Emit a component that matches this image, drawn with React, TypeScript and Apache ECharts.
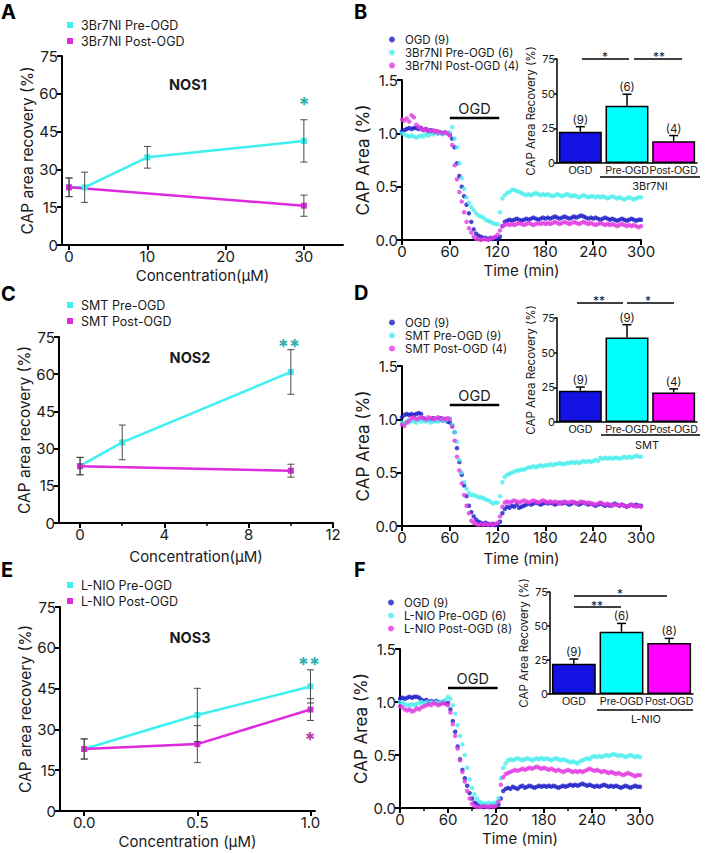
import React, { useEffect, useRef } from "react";
import * as echarts from "echarts";

const FONT = "Inter, 'Liberation Sans', Arial, Helvetica, sans-serif";
const FONT_NARROW = "'Liberation Sans', Arial, Helvetica, sans-serif";
const TXT = "#1a1a1a";
const CYAN = "#3ff0f0";
const MAG = "#dd2bdd";
const BLUE = "#1c1cc8";
const DOT_CYAN = "#4ceeee";
const DOT_MAG = "#e23ae2";
const BAR_COLORS = ["#1212e2", "#00ffff", "#ff00ff"];
const TEAL = "#2fb0b0";
const STAR_MAG = "#b03cb0";

// ---------- Panel A (NOS1, 3Br7NI) ----------
const concAPre = [0, 2, 10, 30];
const preA = [22.9, 22.9, 34.8, 41.3];
const preAErr = [3.7, 6.0, 4.3, 8.4];
const concAPost = [0, 30];
const postA = [22.9, 15.6];
const postAErr = [3.7, 4.2];

// ---------- Panel C (NOS2, SMT) ----------
const concCPre = [0, 2, 10];
const preC = [23.0, 32.5, 60.9];
const preCErr = [3.5, 7.0, 9.0];
const concCPost = [0, 10];
const postC = [22.9, 21.1];
const postCErr = [3.5, 2.6];

// ---------- Panel E (NOS3, L-NIO) ----------
const concEPre = [0, 0.5, 1];
const preE = [22.8, 35.3, 45.8];
const preEErr = [3.7, 9.8, 6.1];
const concEPost = [0, 0.5, 1];
const postE = [22.8, 24.6, 37.3];
const postEErr = [3.7, 6.8, 4.0];

// ---------- Inset bar charts ----------
const barCats = ["OGD", "Pre-OGD", "Post-OGD"];
const insetB = [22.6, 41.3, 15.6];
const insetBErr = [3.6, 8.3, 4.2];
const insetBN = ["(9)", "(6)", "(4)"];
const insetD = [22.6, 61.0, 21.3];
const insetDErr = [2.6, 9.2, 2.6];
const insetDN = ["(9)", "(9)", "(4)"];
const insetF = [22.3, 45.8, 37.5];
const insetFErr = [3.4, 6.1, 3.4];
const insetFN = ["(9)", "(6)", "(8)"];

// ---------- Time courses (sampled every 3 min, 0..300) ----------
const timeMin = Array.from({ length: 101 }, (_, i) => i * 3);

const bOGD = [
  1.02, 1.03, 1.04, 1.05, 1.04, 1.05, 1.05, 1.04, 1.05, 1.03,
  1.04, 1.02, 1.03, 1.01, 1.02, 1.0, 1.01, 1.0, 1.01, 1.0,
  0.99, 0.95, 0.87, 0.72, 0.6, 0.5, 0.41, 0.33, 0.25, 0.17,
  0.1, 0.06, 0.04, 0.03, 0.02, 0.02, 0.01, 0.02, 0.01, 0.02,
  0.01, 0.03, 0.13, 0.17, 0.18, 0.19, 0.18, 0.19, 0.2, 0.19,
  0.18, 0.19, 0.2, 0.19, 0.2, 0.21, 0.2, 0.19, 0.2, 0.21,
  0.2, 0.21, 0.2, 0.21, 0.22, 0.21, 0.2, 0.21, 0.22, 0.21,
  0.2, 0.21, 0.22, 0.21, 0.22, 0.23, 0.22, 0.21, 0.2, 0.21,
  0.2, 0.21, 0.2, 0.19, 0.2, 0.21, 0.2, 0.19, 0.2, 0.19,
  0.18, 0.19, 0.2, 0.19, 0.18, 0.19, 0.2, 0.19, 0.18, 0.19, 0.19,
];
const bPre = [
  1.0, 0.99, 0.98, 0.97, 0.98, 0.97, 0.96, 0.97, 0.98, 0.97,
  0.99, 0.98, 1.0, 0.99, 1.01, 1.0, 1.0, 0.99, 1.01, 1.0,
  1.01, 1.06, 0.95, 0.87, 0.72, 0.58, 0.48, 0.4, 0.35, 0.31,
  0.28, 0.25, 0.23, 0.22, 0.21, 0.19, 0.18, 0.17, 0.16, 0.15,
  0.15, 0.26, 0.39, 0.42, 0.44, 0.45, 0.47, 0.47, 0.46, 0.45,
  0.44, 0.43, 0.42, 0.43, 0.42, 0.43, 0.44, 0.43, 0.42, 0.43,
  0.42, 0.43, 0.42, 0.41, 0.42, 0.43, 0.42, 0.41, 0.42, 0.43,
  0.42, 0.41, 0.42, 0.41, 0.4, 0.41, 0.42, 0.41, 0.4, 0.41,
  0.41, 0.4, 0.41, 0.4, 0.41, 0.4, 0.39, 0.4, 0.41, 0.4,
  0.39, 0.4, 0.39, 0.38, 0.39, 0.4, 0.39, 0.38, 0.39, 0.4, 0.4,
];
const bPost = [
  1.13, 1.12, 1.14, 1.11, 1.17, 1.15, 1.08, 1.06, 1.04, 1.03,
  1.04, 1.03, 1.02, 1.03, 1.01, 1.02, 1.01, 1.0, 1.01, 1.0,
  0.98, 0.89, 0.7, 0.57, 0.45, 0.36, 0.26, 0.17, 0.11, 0.07,
  0.03, 0.01, 0.01, 0.0, 0.01, 0.01, 0.0, 0.01, 0.02, 0.03,
  0.05, 0.09, 0.13, 0.14, 0.15, 0.14, 0.15, 0.14, 0.15, 0.16,
  0.15, 0.14, 0.15, 0.16, 0.15, 0.14, 0.15, 0.16, 0.15, 0.16,
  0.15, 0.16, 0.15, 0.16, 0.17, 0.16, 0.15, 0.16, 0.17, 0.16,
  0.15, 0.16, 0.17, 0.16, 0.15, 0.16, 0.17, 0.16, 0.15, 0.16,
  0.15, 0.14, 0.15, 0.16, 0.15, 0.14, 0.15, 0.14, 0.15, 0.14,
  0.13, 0.14, 0.15, 0.14, 0.13, 0.14, 0.13, 0.14, 0.13, 0.12, 0.13,
];
const dOGD = [
  1.02, 1.04, 1.05, 1.04, 1.05, 1.04, 1.05, 1.06, 1.05, 1.01,
  1.0, 0.99, 1.0, 1.01, 0.99, 1.0, 1.01, 0.99, 1.0, 0.98,
  0.97, 0.94, 0.88, 0.73, 0.6, 0.48, 0.38, 0.28, 0.19, 0.13,
  0.09, 0.06, 0.04, 0.03, 0.02, 0.03, 0.02, 0.01, 0.02, 0.01,
  0.01, 0.04, 0.12, 0.16, 0.18, 0.17, 0.19, 0.18, 0.2, 0.17,
  0.18, 0.19, 0.2, 0.21, 0.2, 0.21, 0.22, 0.21, 0.2, 0.21,
  0.22, 0.21, 0.22, 0.21, 0.2, 0.21, 0.22, 0.21, 0.22, 0.21,
  0.2, 0.21, 0.22, 0.21, 0.2, 0.21, 0.22, 0.21, 0.2, 0.21,
  0.2, 0.19, 0.2, 0.21, 0.2, 0.19, 0.2, 0.19, 0.2, 0.21,
  0.2, 0.19, 0.2, 0.19, 0.18, 0.19, 0.2, 0.19, 0.2, 0.19, 0.19,
];
const dPre = [
  0.97, 0.96, 0.98, 0.97, 0.99, 0.98, 0.97, 0.99, 0.98, 0.99,
  0.98, 0.99, 0.97, 0.98, 0.99, 0.98, 0.99, 1.0, 0.99, 1.0,
  1.01, 0.95, 0.88, 0.79, 0.62, 0.5, 0.41, 0.35, 0.31, 0.29,
  0.29, 0.28, 0.27, 0.27, 0.26, 0.25, 0.24, 0.23, 0.21, 0.22,
  0.22, 0.28, 0.41, 0.46, 0.48, 0.49, 0.5, 0.51, 0.52, 0.52,
  0.53, 0.53, 0.54, 0.55, 0.55, 0.56, 0.55, 0.56, 0.57, 0.56,
  0.57, 0.57, 0.58, 0.57, 0.58, 0.58, 0.59, 0.58, 0.58, 0.59,
  0.59, 0.6, 0.59, 0.6, 0.59, 0.6, 0.61, 0.6, 0.61, 0.6,
  0.61, 0.62, 0.61, 0.64, 0.63, 0.64, 0.63, 0.64, 0.63, 0.64,
  0.64, 0.63, 0.64, 0.65, 0.64, 0.65, 0.64, 0.65, 0.66, 0.65, 0.65,
];
const dPost = [
  0.95, 0.94, 0.97, 0.99, 1.01, 1.02, 1.0, 1.01, 1.02, 1.01,
  1.0, 1.02, 1.01, 1.0, 1.01, 1.02, 1.0, 1.01, 1.0, 1.01,
  1.0, 0.93, 0.8, 0.65, 0.52, 0.4, 0.29, 0.19, 0.12, 0.05,
  0.03, 0.02, 0.01, 0.02, 0.01, 0.02, 0.01, 0.02, 0.01, 0.02,
  0.03, 0.09, 0.18, 0.22, 0.23, 0.22, 0.23, 0.24, 0.23, 0.22,
  0.23, 0.24, 0.23, 0.22, 0.23, 0.24, 0.23, 0.22, 0.23, 0.24,
  0.23, 0.22, 0.23, 0.22, 0.23, 0.22, 0.21, 0.22, 0.23, 0.22,
  0.22, 0.23, 0.22, 0.21, 0.22, 0.23, 0.22, 0.21, 0.22, 0.21,
  0.21, 0.2, 0.21, 0.22, 0.21, 0.2, 0.21, 0.2, 0.19, 0.2,
  0.2, 0.19, 0.2, 0.19, 0.18, 0.19, 0.2, 0.19, 0.18, 0.19, 0.18,
];
const fOGD = [
  1.03, 1.04, 1.03, 1.04, 1.05, 1.04, 1.05, 1.05, 1.04, 1.02,
  1.01, 1.02, 1.0, 1.01, 1.0, 1.01, 1.0, 0.99, 1.0, 0.99,
  0.99, 0.93, 0.82, 0.72, 0.58, 0.46, 0.36, 0.28, 0.21, 0.14,
  0.09, 0.05, 0.04, 0.02, 0.02, 0.01, 0.02, 0.01, 0.02, 0.02,
  0.03, 0.03, 0.09, 0.16, 0.18, 0.19, 0.18, 0.2, 0.19, 0.18,
  0.2, 0.21, 0.19, 0.2, 0.21, 0.2, 0.19, 0.2, 0.21, 0.2,
  0.21, 0.2, 0.21, 0.2, 0.21, 0.2, 0.19, 0.2, 0.21, 0.2,
  0.21, 0.22, 0.21, 0.22, 0.21, 0.22, 0.23, 0.22, 0.21, 0.22,
  0.21, 0.2, 0.21, 0.2, 0.21, 0.22, 0.21, 0.2, 0.21, 0.2,
  0.21, 0.2, 0.19, 0.2, 0.21, 0.2, 0.19, 0.2, 0.21, 0.2, 0.2,
];
const fPre = [
  1.0, 0.99, 0.98, 0.97, 0.97, 0.98, 0.97, 0.98, 0.99, 1.0,
  0.99, 1.0, 0.99, 1.0, 0.99, 1.0, 0.99, 1.0, 1.01, 1.02,
  1.05, 1.03, 0.97, 0.89, 0.78, 0.68, 0.6, 0.5, 0.38, 0.27,
  0.19, 0.13, 0.09, 0.06, 0.05, 0.04, 0.04, 0.05, 0.04, 0.05,
  0.05, 0.09, 0.28, 0.38, 0.42, 0.45, 0.46, 0.45, 0.46, 0.47,
  0.46, 0.45, 0.46, 0.47, 0.46, 0.45, 0.46, 0.47, 0.46, 0.47,
  0.46, 0.47, 0.46, 0.45, 0.46, 0.47, 0.46, 0.45, 0.46, 0.45,
  0.44, 0.43, 0.44, 0.43, 0.42, 0.44, 0.45, 0.46, 0.47, 0.46,
  0.48, 0.49, 0.48, 0.49, 0.48, 0.49, 0.5, 0.49, 0.5, 0.51,
  0.5, 0.49, 0.5, 0.49, 0.48, 0.49, 0.5, 0.49, 0.48, 0.49, 0.48,
];
const fPost = [
  0.96, 0.95, 0.93, 0.92, 0.93, 0.91, 0.92, 0.94, 0.93, 0.95,
  0.96, 0.97, 0.98, 0.97, 0.99, 0.98, 0.97, 0.98, 0.99, 0.98,
  0.97, 0.9, 0.79, 0.68, 0.56, 0.45, 0.34, 0.25, 0.16, 0.09,
  0.04, 0.02, 0.01, 0.01, 0.01, 0.02, 0.01, 0.01, 0.02, 0.01,
  0.02, 0.06, 0.22, 0.29, 0.32, 0.33, 0.34, 0.35, 0.36, 0.35,
  0.36, 0.37, 0.36, 0.37, 0.38, 0.37, 0.38, 0.39, 0.38, 0.37,
  0.38, 0.37, 0.36, 0.37, 0.36, 0.35, 0.36, 0.35, 0.34, 0.35,
  0.36, 0.35, 0.34, 0.35, 0.34, 0.35, 0.34, 0.35, 0.36, 0.37,
  0.36, 0.35, 0.36, 0.35, 0.34, 0.35, 0.34, 0.33, 0.34, 0.33,
  0.32, 0.33, 0.32, 0.31, 0.32, 0.33, 0.32, 0.31, 0.3, 0.31, 0.31,
];

// OGD period bar
const ogdStart = 60;
const ogdEnd = 122;

// ---------- Layout (plot areas, px) ----------
const L = {
  A: { left: 62, top: 56, width: 281, height: 189 },
  B: { left: 402, top: 80, width: 239, height: 160 },
  Bi: { left: 557, top: 59, width: 140, height: 104 },
  C: { left: 59, top: 337, width: 274, height: 186 },
  D: { left: 402, top: 366, width: 239, height: 160 },
  Di: { left: 557, top: 318, width: 140, height: 104 },
  E: { left: 60, top: 607, width: 255, height: 204 },
  F: { left: 400, top: 649, width: 240, height: 159 },
  Fi: { left: 550, top: 592, width: 143, height: 102 },
};
const order = ["A", "B", "Bi", "C", "D", "Di", "E", "F", "Fi"];
const gi = (k: string) => order.indexOf(k);

const pairs = (xs: number[], ys: number[]) => xs.map((x, i) => [x, ys[i]]);
const triples = (xs: number[], ys: number[], es: number[]) => xs.map((x, i) => [x, ys[i], es[i]]);

const axisLineMain = { show: true, onZero: false, lineStyle: { color: "#000", width: 2 } };
const tickMain = { show: true, length: 5, lineStyle: { color: "#000", width: 2 } };
const labelMain = { color: TXT, fontSize: 15, fontFamily: FONT, margin: 4 };
const nameMain = { color: TXT, fontSize: 15, fontFamily: FONT };

function errRender(color: string, cap: number, width: number) {
  return (params: any, api: any) => {
    const x = api.value(0);
    const y = api.value(1);
    const e = api.value(2);
    const hi = api.coord([x, y + e]);
    const lo = api.coord([x, y - e]);
    const style = { stroke: color, lineWidth: width };
    return {
      type: "group",
      children: [
        { type: "line", shape: { x1: hi[0], y1: hi[1], x2: lo[0], y2: lo[1] }, style },
        { type: "line", shape: { x1: hi[0] - cap, y1: hi[1], x2: hi[0] + cap, y2: hi[1] }, style },
        { type: "line", shape: { x1: lo[0] - cap, y1: lo[1], x2: lo[0] + cap, y2: lo[1] }, style },
      ],
    };
  };
}

function barErrRender(labels: string[]) {
  return (params: any, api: any) => {
    const x = api.value(0);
    const y = api.value(1);
    const e = api.value(2);
    const top = api.coord([x, y]);
    const hi = api.coord([x, y + e]);
    const style = { stroke: "#000", lineWidth: 1.5 };
    return {
      type: "group",
      children: [
        { type: "line", shape: { x1: top[0], y1: top[1], x2: hi[0], y2: hi[1] }, style },
        { type: "line", shape: { x1: hi[0] - 4.5, y1: hi[1], x2: hi[0] + 4.5, y2: hi[1] }, style },
        {
          type: "text",
          style: {
            text: labels[params.dataIndex],
            x: hi[0],
            y: hi[1] - 1,
            align: "center",
            verticalAlign: "bottom",
            fontSize: 11.5,
            fontFamily: FONT,
            fill: TXT,
          },
        },
      ],
    };
  };
}

function lineYAxis(k: string) {
  return {
    type: "value",
    gridIndex: gi(k),
    min: 0,
    max: 75,
    interval: 15,
    axisLine: axisLineMain,
    axisTick: tickMain,
    axisLabel: labelMain,
    splitLine: { show: false },
    name: "CAP area recovery (%)",
    nameLocation: "middle",
    nameGap: 27,
    nameTextStyle: { ...nameMain, fontSize: 15.5 },
  };
}

function timeXAxis(k: string, gap: number, minor: boolean) {
  return {
    type: "value",
    gridIndex: gi(k),
    min: 0,
    max: 300,
    interval: 60,
    axisLine: axisLineMain,
    axisTick: tickMain,
    minorTick: { show: minor, splitNumber: 2, length: 3, lineStyle: { color: "#000", width: 1.5 } },
    axisLabel: labelMain,
    splitLine: { show: false },
    minorSplitLine: { show: false },
    name: "Time (min)",
    nameLocation: "middle",
    nameGap: gap,
    nameTextStyle: nameMain,
  };
}

function timeYAxis(k: string) {
  return {
    type: "value",
    gridIndex: gi(k),
    min: 0,
    max: 1.5,
    interval: 0.5,
    axisLine: axisLineMain,
    axisTick: tickMain,
    axisLabel: { ...labelMain, formatter: (v: number) => v.toFixed(1) },
    splitLine: { show: false },
    name: "CAP Area (%)",
    nameLocation: "middle",
    nameGap: 31,
    nameTextStyle: { ...nameMain, fontSize: 17 },
  };
}

function insetXAxis(k: string) {
  return {
    type: "category",
    gridIndex: gi(k),
    data: barCats,
    axisLine: { show: true, onZero: false, lineStyle: { color: "#000", width: 1.5 } },
    axisTick: { show: false },
    axisLabel: { interval: 0, color: TXT, fontSize: 10.5, fontFamily: FONT_NARROW, margin: 1 },
    splitLine: { show: false },
  };
}

function insetYAxis(k: string) {
  return {
    type: "value",
    gridIndex: gi(k),
    min: 0,
    max: 75,
    interval: 25,
    axisLine: { show: true, onZero: false, lineStyle: { color: "#000", width: 1.5 } },
    axisTick: { show: true, length: 3, lineStyle: { color: "#000", width: 1.5 } },
    axisLabel: { color: TXT, fontSize: 11, fontFamily: FONT, margin: 2 },
    splitLine: { show: false },
    name: "CAP Area Recovery (%)",
    nameLocation: "middle",
    nameGap: 16,
    nameTextStyle: { color: TXT, fontSize: 11.5, fontFamily: FONT },
  };
}

function lineSeries(k: string, name: string, xs: number[], ys: number[], es: number[], color: string) {
  const idx = gi(k);
  return [
    {
      type: "line",
      name,
      xAxisIndex: idx,
      yAxisIndex: idx,
      data: pairs(xs, ys),
      symbol: "rect",
      symbolSize: 6,
      lineStyle: { color, width: 2.5 },
      itemStyle: { color },
      z: 3,
    },
    {
      type: "custom",
      xAxisIndex: idx,
      yAxisIndex: idx,
      data: triples(xs, ys, es),
      renderItem: errRender("#4a4a4a", 3.5, 1),
      encode: { x: 0, y: 1 },
      silent: true,
      clip: false,
      z: 5,
    },
  ];
}

function scatterSeries(k: string, name: string, ys: number[], color: string) {
  const idx = gi(k);
  return {
    type: "scatter",
    name,
    xAxisIndex: idx,
    yAxisIndex: idx,
    data: pairs(timeMin, ys),
    symbolSize: 4.5,
    itemStyle: { color },
    silent: true,
  };
}

function insetSeries(k: string, vals: number[], errs: number[], labels: string[]) {
  const idx = gi(k);
  return [
    {
      type: "bar",
      xAxisIndex: idx,
      yAxisIndex: idx,
      data: vals.map((v, i) => ({ value: v, itemStyle: { color: BAR_COLORS[i] } })),
      barCategoryGap: "8%",
      itemStyle: { borderColor: "#000", borderWidth: 1.5 },
      silent: true,
    },
    {
      type: "custom",
      xAxisIndex: idx,
      yAxisIndex: idx,
      data: vals.map((v, i) => [i, v, errs[i]]),
      renderItem: barErrRender(labels),
      encode: { x: 0, y: 1 },
      silent: true,
      clip: false,
      z: 4,
    },
  ];
}

function timePx(k: string, t: number) {
  const g = (L as any)[k];
  return g.left + (t / 300) * g.width;
}

function txt(text: string, x: number, y: number, opts: any = {}) {
  return {
    type: "text",
    x,
    y,
    style: {
      text,
      align: opts.align || "center",
      verticalAlign: opts.va || "middle",
      fontSize: opts.size || 12,
      fontWeight: opts.bold ? "bold" : "normal",
      fontFamily: opts.font || FONT,
      fill: opts.color || TXT,
    },
    silent: true,
  };
}

function hline(x1: number, x2: number, y: number, w = 1.5) {
  return { type: "line", shape: { x1, y1: y, x2, y2: y }, style: { stroke: "#000", lineWidth: w }, silent: true };
}

function ogdMarker(k: string, y: number) {
  const x1 = timePx(k, ogdStart);
  const x2 = timePx(k, ogdEnd);
  return [hline(x1, x2, y, 2.5), txt("OGD", (x1 + x2) / 2, y - 10, { size: 14.5 })];
}

function buildOption() {
  const legendBase = (left: number, top: number, data: string[], icon: string, lh: number, gap: number, pad: number, fs: number) => ({
    orient: "vertical",
    left,
    top,
    data,
    icon,
    itemWidth: 6,
    itemHeight: 6,
    itemGap: gap,
    padding: 0,
    selectedMode: false,
    textStyle: { color: TXT, fontSize: fs, fontFamily: FONT, lineHeight: lh, padding: [0, 0, 0, pad] },
  });

  const graphic: any[] = [
    txt("A", 1, 2, { size: 20, bold: true, align: "left", va: "top", color: "#000" }),
    txt("B", 354, 2, { size: 20, bold: true, align: "left", va: "top", color: "#000" }),
    txt("C", 1, 284, { size: 20, bold: true, align: "left", va: "top", color: "#000" }),
    txt("D", 354, 283, { size: 20, bold: true, align: "left", va: "top", color: "#000" }),
    txt("E", 1, 560, { size: 20, bold: true, align: "left", va: "top", color: "#000" }),
    txt("F", 354, 560, { size: 20, bold: true, align: "left", va: "top", color: "#000" }),
    txt("NOS1", 188, 84, { size: 14.5, bold: true }),
    txt("NOS2", 190, 357, { size: 14.5, bold: true }),
    txt("NOS3", 190, 637, { size: 14.5, bold: true }),
    txt("*", 304, 95, { size: 20, bold: true, color: TEAL, va: "top" }),
    txt("**", 289, 337, { size: 20, bold: true, color: TEAL, va: "top" }),
    txt("**", 309, 655, { size: 20, bold: true, color: TEAL, va: "top" }),
    txt("*", 310, 730, { size: 20, bold: true, color: STAR_MAG, va: "top" }),
    ...ogdMarker("B", 118),
    ...ogdMarker("D", 405),
    ...ogdMarker("F", 688),
    // inset B annotations
    hline(582, 629, 59),
    txt("*", 605, 50, { size: 12, va: "top" }),
    hline(634, 682, 59),
    txt("**", 659, 50, { size: 12, va: "top" }),
    hline(600, 700, 177),
    txt("3Br7NI", 650, 186, { size: 11 }),
    // inset D annotations
    hline(577, 623, 303),
    txt("**", 599, 294, { size: 12, va: "top" }),
    hline(627, 674, 303),
    txt("*", 648, 294, { size: 12, va: "top" }),
    hline(601, 700, 435),
    txt("SMT", 647, 445, { size: 11 }),
    // inset F annotations
    hline(574, 667, 596),
    txt("*", 620, 587, { size: 12, va: "top" }),
    hline(574, 621, 607),
    txt("**", 597, 599, { size: 12, va: "top" }),
    hline(597, 693, 710),
    txt("L-NIO", 646, 719, { size: 11 }),
  ];

  const grid = order.map((k) => ({ ...(L as any)[k], containLabel: false, outerBoundsMode: "none" }));

  const xAxis: any[] = [
    {
      type: "value",
      gridIndex: gi("A"),
      min: -0.9,
      max: 35,
      axisLine: axisLineMain,
      axisTick: { ...tickMain, customValues: [0, 10, 20, 30] },
      axisLabel: { ...labelMain, customValues: [0, 10, 20, 30] },
      splitLine: { show: false },
      name: "Concentration(μM)",
      nameLocation: "middle",
      nameGap: 23,
      nameTextStyle: nameMain,
    },
    timeXAxis("B", 23, false),
    insetXAxis("Bi"),
    {
      type: "value",
      gridIndex: gi("C"),
      min: -1,
      max: 12,
      axisLine: axisLineMain,
      axisTick: { ...tickMain, customValues: [0, 4, 8, 12] },
      axisLabel: { ...labelMain, customValues: [0, 4, 8, 12] },
      splitLine: { show: false },
      name: "Concentration(μM)",
      nameLocation: "middle",
      nameGap: 26,
      nameTextStyle: nameMain,
    },
    timeXAxis("D", 25, false),
    insetXAxis("Di"),
    {
      type: "value",
      gridIndex: gi("E"),
      min: -0.107,
      max: 1.02,
      axisLine: axisLineMain,
      axisTick: { ...tickMain, customValues: [0, 0.5, 1] },
      axisLabel: { ...labelMain, customValues: [0, 0.5, 1], formatter: (v: number) => v.toFixed(1) },
      splitLine: { show: false },
      name: "Concentration (μM)",
      nameLocation: "middle",
      nameGap: 23,
      nameTextStyle: nameMain,
    },
    timeXAxis("F", 23, true),
    insetXAxis("Fi"),
    {
      type: "value",
      gridIndex: gi("C"),
      position: "bottom",
      min: -1,
      max: 12,
      axisLine: { show: false },
      axisTick: { show: true, length: 3, customValues: [2, 6, 10], lineStyle: { color: "#000", width: 1.5 } },
      axisLabel: { show: false },
      splitLine: { show: false },
    },
  ];

  const yAxis: any[] = [
    lineYAxis("A"),
    timeYAxis("B"),
    insetYAxis("Bi"),
    lineYAxis("C"),
    timeYAxis("D"),
    insetYAxis("Di"),
    lineYAxis("E"),
    timeYAxis("F"),
    insetYAxis("Fi"),
  ];

  const series: any[] = [
    ...lineSeries("A", "3Br7NI Pre-OGD", concAPre, preA, preAErr, CYAN),
    ...lineSeries("A", "3Br7NI Post-OGD", concAPost, postA, postAErr, MAG),
    ...lineSeries("C", "SMT Pre-OGD", concCPre, preC, preCErr, CYAN),
    ...lineSeries("C", "SMT Post-OGD", concCPost, postC, postCErr, MAG),
    ...lineSeries("E", "L-NIO Pre-OGD", concEPre, preE, preEErr, CYAN),
    ...lineSeries("E", "L-NIO Post-OGD", concEPost, postE, postEErr, MAG),
    scatterSeries("B", "OGD (9)", bOGD, BLUE),
    scatterSeries("B", "3Br7NI Pre-OGD (6)", bPre, DOT_CYAN),
    scatterSeries("B", "3Br7NI Post-OGD (4)", bPost, DOT_MAG),
    scatterSeries("D", "OGD (9)", dOGD, BLUE),
    scatterSeries("D", "SMT Pre-OGD (9)", dPre, DOT_CYAN),
    scatterSeries("D", "SMT Post-OGD (4)", dPost, DOT_MAG),
    scatterSeries("F", "OGD (9)", fOGD, BLUE),
    scatterSeries("F", "L-NIO Pre-OGD (6)", fPre, DOT_CYAN),
    scatterSeries("F", "L-NIO Post-OGD (8)", fPost, DOT_MAG),
    ...insetSeries("Bi", insetB, insetBErr, insetBN),
    ...insetSeries("Di", insetD, insetDErr, insetDN),
    ...insetSeries("Fi", insetF, insetFErr, insetFN),
  ];

  const legend = [
    legendBase(67, 18, ["3Br7NI Pre-OGD", "3Br7NI Post-OGD"], "rect", 14, 2, 3, 12.5),
    legendBase(67, 298, ["SMT Pre-OGD", "SMT Post-OGD"], "rect", 14, 2, 3, 12.5),
    legendBase(67, 578, ["L-NIO Pre-OGD", "L-NIO Post-OGD"], "rect", 14, 2, 3, 12.5),
    legendBase(389, 33, ["OGD (9)", "3Br7NI Pre-OGD (6)", "3Br7NI Post-OGD (4)"], "circle", 13, 0, 5, 11.5),
    legendBase(389, 316, ["OGD (9)", "SMT Pre-OGD (9)", "SMT Post-OGD (4)"], "circle", 13, 0, 5, 11.5),
    legendBase(388, 596, ["OGD (9)", "L-NIO Pre-OGD (6)", "L-NIO Post-OGD (8)"], "circle", 13, 0, 5, 11.5),
  ];

  return {
    animation: false,
    backgroundColor: "#fff",
    textStyle: { fontFamily: FONT },
    grid,
    xAxis,
    yAxis,
    series,
    legend,
    graphic,
  };
}

export default function App() {
  const ref = useRef<HTMLDivElement>(null);
  useEffect(() => {
    if (!ref.current) return;
    const chart = echarts.init(ref.current, undefined, { renderer: "svg" });
    chart.setOption(buildOption() as any);
    return () => chart.dispose();
  }, []);
  return (
    <div
      ref={ref}
      style={{ position: "absolute", left: 0, top: 0, width: 708, height: 853, background: "#fff" }}
    />
  );
}
